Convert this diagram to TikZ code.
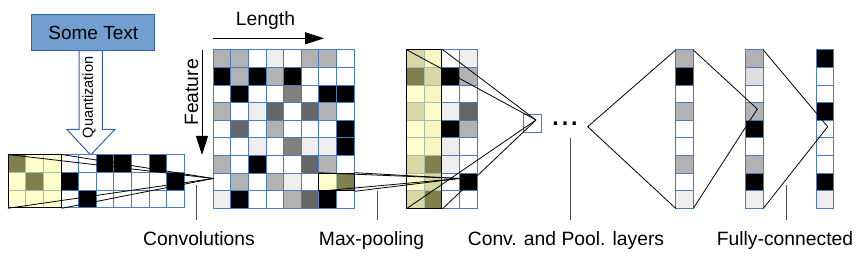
\documentclass[tikz,border=0pt]{standalone}
\usepackage{fontspec}
\setmainfont{Liberation Sans}
\usetikzlibrary{arrows.meta,fit,calc,positioning}

\definecolor{cellblue}{HTML}{4A7EBB}
\definecolor{boxfill}{HTML}{729FCF}
\definecolor{boxline}{HTML}{3465A4}
\definecolor{cw}{HTML}{FFFFFF}
\definecolor{cl}{HTML}{EEEEEE}
\definecolor{cx}{HTML}{DDDDDD}
\definecolor{cg}{HTML}{B2B2B2}
\definecolor{cm}{HTML}{808080}
\definecolor{cd}{HTML}{666666}
\definecolor{ck}{HTML}{000000}
\definecolor{hiyellow}{HTML}{FFFF99}

\tikzset{
  cell/.style={draw=cellblue, line width=1pt, minimum size=17.6pt, inner sep=0pt, outer sep=0pt, anchor=north west},
  hilite/.style={draw=black, line width=1pt, fill=hiyellow, fill opacity=0.5, inner sep=0pt},
  link/.style={line width=0.8pt},
  callout/.style={line width=1pt, black!70, shorten >=11pt},
  lab/.style={font=\fontsize{19.3}{23}\selectfont, anchor=base, inner sep=0pt},
  dimarrow/.style={line width=1pt, -{Triangle[length=19pt,width=12pt]}},
}

% grid of cells: name, x, y, rows of colours
\newcommand{\cellgrid}[4]{%
  \foreach \rowcols [count=\r from 0] in {#4} {
    \foreach \c [count=\k from 0] in \rowcols {
      \node[cell, fill=\c] (#1-\r-\k) at ({#2+\k*17.6},{#3+\r*17.6}) {};
    }
  }
}

\begin{document}
\begin{tikzpicture}[x=1pt,y=-1pt]
\useasboundingbox (0,0) rectangle (863,259);

% input text and quantization
\node[draw=boxline, fill=boxfill, line width=1pt, minimum width=123.3pt, minimum height=35.7pt,
  font=\fontsize{19}{23}\selectfont] (src) at (93.3,32.8) {Some Text};
\coordinate (qtip) at (90.7,155);
\draw[draw=boxline, fill=white, line width=1pt] (qtip) -- ++(24.3,-25.7) -- ++(-12.7,0) -- ++(0,-78.6)
  -- ++(-23.3,0) -- ++(0,78.6) -- ++(-12.3,0) -- cycle;
\node[rotate=90, inner sep=0pt, font=\fontsize{14.5}{17}\selectfont] (qlab) at (89,97.5) {Quantization};

% quantized input
\cellgrid{in}{8.3}{155}{{ck,cw,cw,cw,cw,ck,ck,cw,ck,cw},
  {cw,ck,cw,ck,cw,cw,cw,cw,cw,ck},
  {cw,cw,cw,cw,ck,cw,cw,cw,cw,cw}}

% feature map
\cellgrid{main}{213.3}{50}{{cg,cg,cw,cl,cw,cg,cg,cw},
  {ck,cg,ck,cg,ck,cw,cw,cw},
  {cw,ck,cw,cw,cm,cw,ck,ck},
  {cg,cw,cl,cd,cw,cd,cg,cw},
  {cw,cd,cw,cg,cw,cw,cw,ck},
  {cw,cw,cl,cw,cm,cl,cl,ck},
  {cg,cw,ck,cw,cw,cd,cg,cw},
  {cw,cg,cw,cg,cl,cw,cw,ck},
  {cl,ck,cw,cw,cg,cd,ck,cw}}

% pooled map
\cellgrid{pool}{406.7}{50}{{cg,cl,cw,cl},
  {ck,cg,ck,cg},
  {cw,cl,cw,cw},
  {cg,cw,cl,cd},
  {cw,cl,ck,cg},
  {cw,cl,cl,cw},
  {cg,ck,cl,cw},
  {cw,cg,cw,ck},
  {cg,ck,cw,cw}}

% next layer and fully-connected columns
\node[cell, fill=white] (nxt) at (523.5,114.5) {};
\cellgrid{col4}{675.7}{50}{{cg},{ck},{cw},{cg},{cw},{cw},{cg},{cw},{cl}}
\cellgrid{col5}{745.7}{50}{{cg},{cx},{cw},{cg},{ck},{cw},{cg},{ck},{cl}}
\cellgrid{col6}{816}{50}{{ck},{cw},{cw},{ck},{cw},{cw},{cw},{ck},{cl}}

% highlighted windows
\node[hilite, fit=(in-0-0)(in-2-2)] (kern) {};
\node[hilite, fit=(main-7-6)(main-7-7)] (mpool) {};
\node[hilite, fit=(pool-0-0)(pool-8-1)] (pconv) {};

% axes
\node[inner sep=0pt, font=\fontsize{19.3}{23}\selectfont] (lenlab) at (265.5,21) {Length};
\coordinate (lenA) at (213.3,38.3);
\coordinate (lenB) at (324,38.3);
\draw[dimarrow] (lenA) -- (lenB);
\node[rotate=90, inner sep=0pt, font=\fontsize{19.3}{23}\selectfont] (featlab) at (191.5,92.5) {Feature};
\coordinate (featA) at (202,50);
\coordinate (featB) at (202,155);
\draw[dimarrow] (featA) -- (featB);

% convergence points
\coordinate (cvpt) at ($(main-7-0.north west)!0.3!(main-7-0.south west)$);
\coordinate (mppt) at ($(pool-7-3.north west)!0.3!(pool-7-3.south west)$);
\coordinate (nxpt) at (536,120);
\coordinate (tri) at (587.7,126.7);
\coordinate (fc1) at (757.3,109);
\coordinate (fc2) at (827.7,126.7);

\foreach \a in {north west,south west,north east,south east} {
  \draw[link] (kern.\a) -- (cvpt);
  \draw[link] (mpool.\a) -- (mppt);
  \draw[link] (pconv.\a) -- (nxpt);
}
\node[anchor=base, inner sep=0pt, font=\fontsize{34}{40}\selectfont] (dots) at (565,126) {...};
\draw[link] (col4-0-0.north west) -- (tri) -- (col4-8-0.south west);
\draw[link] (col4-0-0.north east) -- (fc1) -- (col4-8-0.south east);
\draw[link] (col5-0-0.north east) -- (fc2) -- (col5-8-0.south east);

% labels
\node[lab] (cvlab) at (199,245) {Convolutions};
\node[lab] (mplab) at (371.5,245) {Max-pooling};
\node[lab] (cplab) at (566,245) {Conv. and Pool. layers};
\node[lab] (fclab) at (785,245) {Fully-connected};
\coordinate (cvtop) at (196,185);
\coordinate (mptop) at (377,191);
\coordinate (cptop) at (570,138.3);
\coordinate (fctop) at (786.7,185);
\draw[callout] (cvtop) -- (cvtop |- cvlab.north);
\draw[callout] (mptop) -- (mptop |- mplab.north);
\draw[callout] (cptop) -- (cptop |- cplab.north);
\draw[callout] (fctop) -- (fctop |- fclab.north);
\end{tikzpicture}
\end{document}
